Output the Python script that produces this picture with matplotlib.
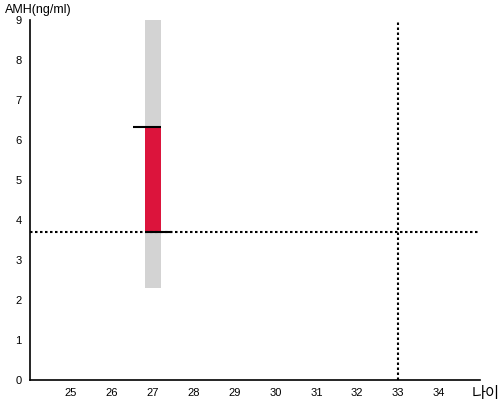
import matplotlib
matplotlib.use("Agg")
import matplotlib.pyplot as plt

plt.rcParams['font.family'] = ['Liberation Sans', 'Noto Sans CJK KR', 'DejaVu Sans']

# 데이터
age = 27
range_low, range_high = 2.3, 9.0
val_low, val_high = 3.7, 6.33
ref_age = 33
ref_amh = 3.7
xticks = [25, 26, 27, 28, 29, 30, 31, 32, 33, 34]
yticks = [0, 1, 2, 3, 4, 5, 6, 7, 8, 9]

fig = plt.figure(figsize=(5, 4), dpi=100)
ax = fig.add_axes([0.06, 0.05, 0.90, 0.90])

# 회색 범위 막대
ax.bar(age, range_high - range_low, bottom=range_low, width=0.4, color='#d3d3d3', zorder=1)
# 빨간 막대
ax.bar(age, val_high - val_low, bottom=val_low, width=0.4, color='#dc143c', zorder=2)
# 위/아래 가로선
ax.hlines(val_high, age - 0.48, age + 0.2, color='black', lw=1.5, zorder=3)
ax.hlines(val_low, age - 0.2, age + 0.48, color='black', lw=1.5, zorder=3)

# 기준 점선
ax.axhline(ref_amh, color='black', lw=1.5, ls=(0, (1.2, 1.2)), zorder=2.5)
ax.axvline(ref_age, color='black', lw=1.5, ls=(0, (1.2, 1.2)), zorder=2.5)

ax.set_xlim(24, 35)
ax.set_ylim(0, 9)
ax.set_xticks(xticks)
ax.set_yticks(yticks)
ax.tick_params(length=0, labelsize=8, pad=6)
for s in ['top', 'right']:
    ax.spines[s].set_visible(False)
ax.spines['left'].set_linewidth(1.2)
ax.spines['bottom'].set_linewidth(1.2)

fig.text(0.01, 0.975, 'AMH(ng/ml)', fontsize=9, va='center', ha='left')
fig.text(0.943, 0.016, '나이', fontsize=11, va='center', ha='left')

fig.savefig('out.png', dpi=100)
